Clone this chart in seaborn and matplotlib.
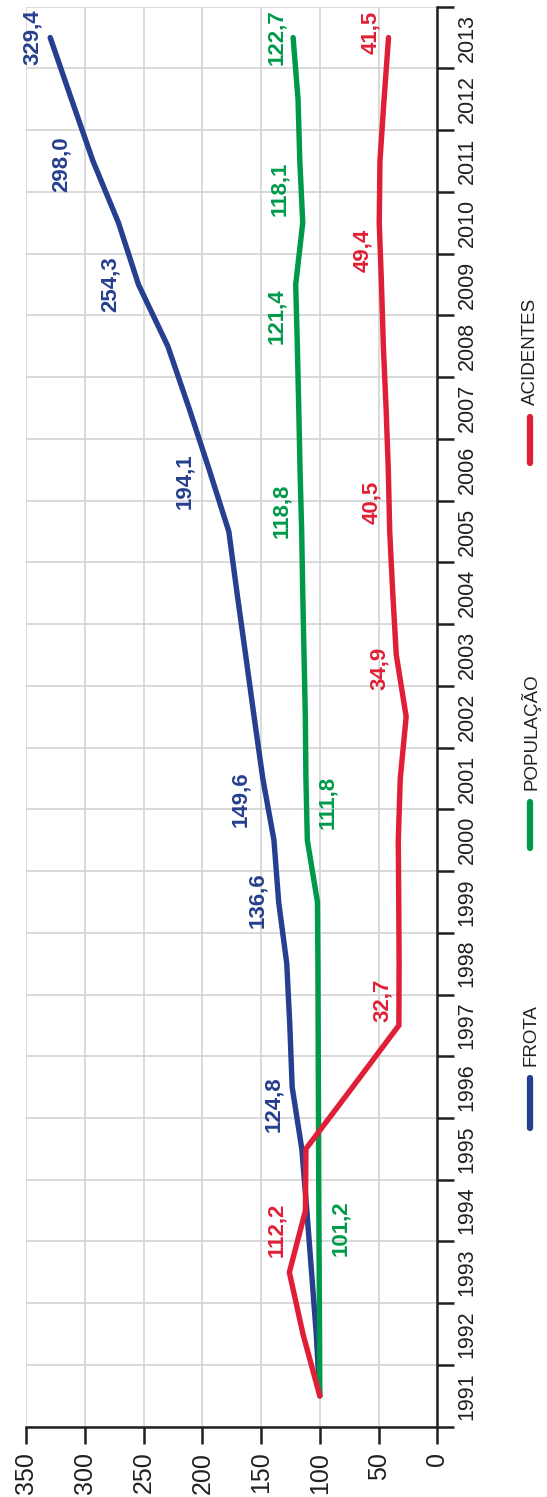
import matplotlib
matplotlib.use("Agg")
import matplotlib.pyplot as plt
from matplotlib.lines import Line2D
from matplotlib.ticker import FixedLocator
import numpy as np
import pandas as pd
import seaborn as sns

# ---------------- data ----------------
years = list(range(1991, 2014))
frota = [100, 103, 107, 111, 115.3, 123.5, 125.5, 128.1, 135.0, 139.0, 148.5, 155.9,
         163.1, 170.4, 177.4, 194.1, 211.3, 229.3, 254.3, 271.3, 293.0, 311.3, 329.4]
populacao = [100, 100.2, 100.5, 100.8, 101.0, 101.2, 101.4, 101.6, 102.0, 110.6, 111.8,
             112.3, 113.4, 114.5, 115.4, 116.8, 117.9, 119.1, 120.5, 114.5, 117.0, 118.5, 122.7]
acidentes = [100, 114.3, 125.9, 112.2, 111.8, 72.1, 32.7, 32.5, 32.8, 33.2, 31.5, 26.5,
             34.9, 37.9, 40.5, 41.7, 43.6, 45.9, 47.5, 49.4, 48.8, 45.3, 41.5]

series_names = ["FROTA", "POPULAÇÃO", "ACIDENTES"]
colors = ["#263f8e", "#00994a", "#e01f36"]
value_ticks = [0, 50, 100, 150, 200, 250, 300, 350]

frota_label_years = [2013, 2011, 2009, 2006, 2001, 1999, 1996]
frota_label_text = ["329,4", "298,0", "254,3", "194,1", "149,6", "136,6", "124,8"]
pop_label_years = [2013, 2011, 2008, 2005, 2001, 1994]
pop_label_text = ["122,7", "118,1", "121,4", "118,8", "111,8", "101,2"]
acid_label_years = [2013, 2010, 2005, 2003, 1997, 1994]
acid_label_text = ["41,5", "49,4", "40,5", "34,9", "32,7", "112,2"]

# ---------------- layout (offsets in points) ----------------
frota_offsets = [(-5, 0), (-15, -2), (-13, 0), (-10, -8), (-8.5, -15), (-7.5, 1.5), (-6, -12)]
frota_ha = ["right"] * 7
pop_offsets = [(-4.5, 0), (-7, -20), (-7, 21.5), (-7, 15), (8, -17), (8, -13)]
pop_ha = ["right", "right", "right", "right", "left", "left"]
acid_offsets = [(-5.5, 3.4), (-4.5, -20), (-5.5, 21), (-4.5, -10), (-4.3, 17.7), (-13, -14)]
acid_ha = ["right"] * 6

W, H = 547, 1497
sns.set_theme(style="white")
plt.rcParams["font.family"] = ["Liberation Sans", "DejaVu Sans"]

fig = plt.figure(figsize=(W / 100, H / 100), dpi=100)
ax = fig.add_axes([26 / W, 1 - 1426.7 / H, (437.3 - 26) / W, (1426.7 - 6.7) / H])

df = pd.DataFrame({
    "year": years * 3,
    "value": frota + populacao + acidentes,
    "serie": [series_names[0]] * len(years) + [series_names[1]] * len(years) + [series_names[2]] * len(years),
})

sns.lineplot(data=df, x="value", y="year", hue="serie", hue_order=series_names,
             palette=colors, orient="y", sort=False, estimator=None,
             linewidth=3.9, legend=False, ax=ax)
for ln in ax.lines:
    ln.set_solid_capstyle("round")
    ln.set_solid_joinstyle("miter")

ax.set_xlim(350, 0)
ax.set_ylim(1990.5, 2013.5)
ax.set_xlabel("")
ax.set_ylabel("")

# grid
ax.set_axisbelow(True)
ax.xaxis.set_major_locator(FixedLocator(value_ticks))
ax.set_xticklabels([str(v) for v in value_ticks])
ax.yaxis.set_major_locator(FixedLocator(years))
ax.set_yticklabels([str(y) for y in years])
ax.yaxis.set_minor_locator(FixedLocator([y - 0.5 for y in years] + [years[-1] + 0.5]))
ax.grid(False)
ax.grid(True, axis="x", which="major", color="#d3d3d3", linewidth=1.2)
ax.grid(True, axis="y", which="minor", color="#d3d3d3", linewidth=1.2)

for s in ["left", "top"]:
    ax.spines[s].set_visible(False)
for s in ["right", "bottom"]:
    ax.spines[s].set_visible(True)
    ax.spines[s].set_color("#231f20")
    ax.spines[s].set_linewidth(1.8)
    ax.spines[s].set_zorder(5)

ax.yaxis.tick_right()
ax.tick_params(axis="x", which="major", bottom=True, direction="out", length=12, width=1.8,
               color="#231f20", labelsize=18, labelcolor="#231f20", pad=6, labelrotation=90)
ax.tick_params(axis="y", which="major", left=False, right=True, length=0, pad=14,
               labelsize=15.5, labelcolor="#231f20")
ax.tick_params(axis="y", which="minor", left=False, right=True, direction="out", length=12,
               width=1.8, color="#231f20")
for lab in ax.get_yticklabels():
    lab.set_rotation(90)
    lab.set_va("center")
    lab.set_ha("left")
for lab in ax.get_xticklabels():
    lab.set_va("top")
    lab.set_ha("center")

# data labels
def add_labels(values, lyears, ltexts, offsets, has, color):
    for yr, txt, off, ha in zip(lyears, ltexts, offsets, has):
        v = values[years.index(yr)]
        ax.annotate(txt, xy=(v, yr), xytext=off, textcoords="offset points",
                    rotation=90, ha=ha, va="center", color=color,
                    fontsize=16, fontweight="bold", zorder=6)

add_labels(frota, frota_label_years, frota_label_text, frota_offsets, frota_ha, colors[0])
add_labels(populacao, pop_label_years, pop_label_text, pop_offsets, pop_ha, colors[1])
add_labels(acidentes, acid_label_years, acid_label_text, acid_offsets, acid_ha, colors[2])

# legend (vertical, rotated)
leg_x = 530 / W
leg_items = [(1078, 1128), (802, 848), (417, 463)]
for name, col, (y0, y1) in zip(series_names, colors, leg_items):
    fig.add_artist(Line2D([leg_x, leg_x], [1 - y0 / H, 1 - y1 / H], color=col,
                          linewidth=4.5, solid_capstyle="round", transform=fig.transFigure))
    fig.text(leg_x + 0.001, 1 - (y0 - 12) / H, name, rotation=90, ha="center", va="bottom",
             fontsize=13.5, color="#231f20")

fig.savefig("out.png", dpi=100)
